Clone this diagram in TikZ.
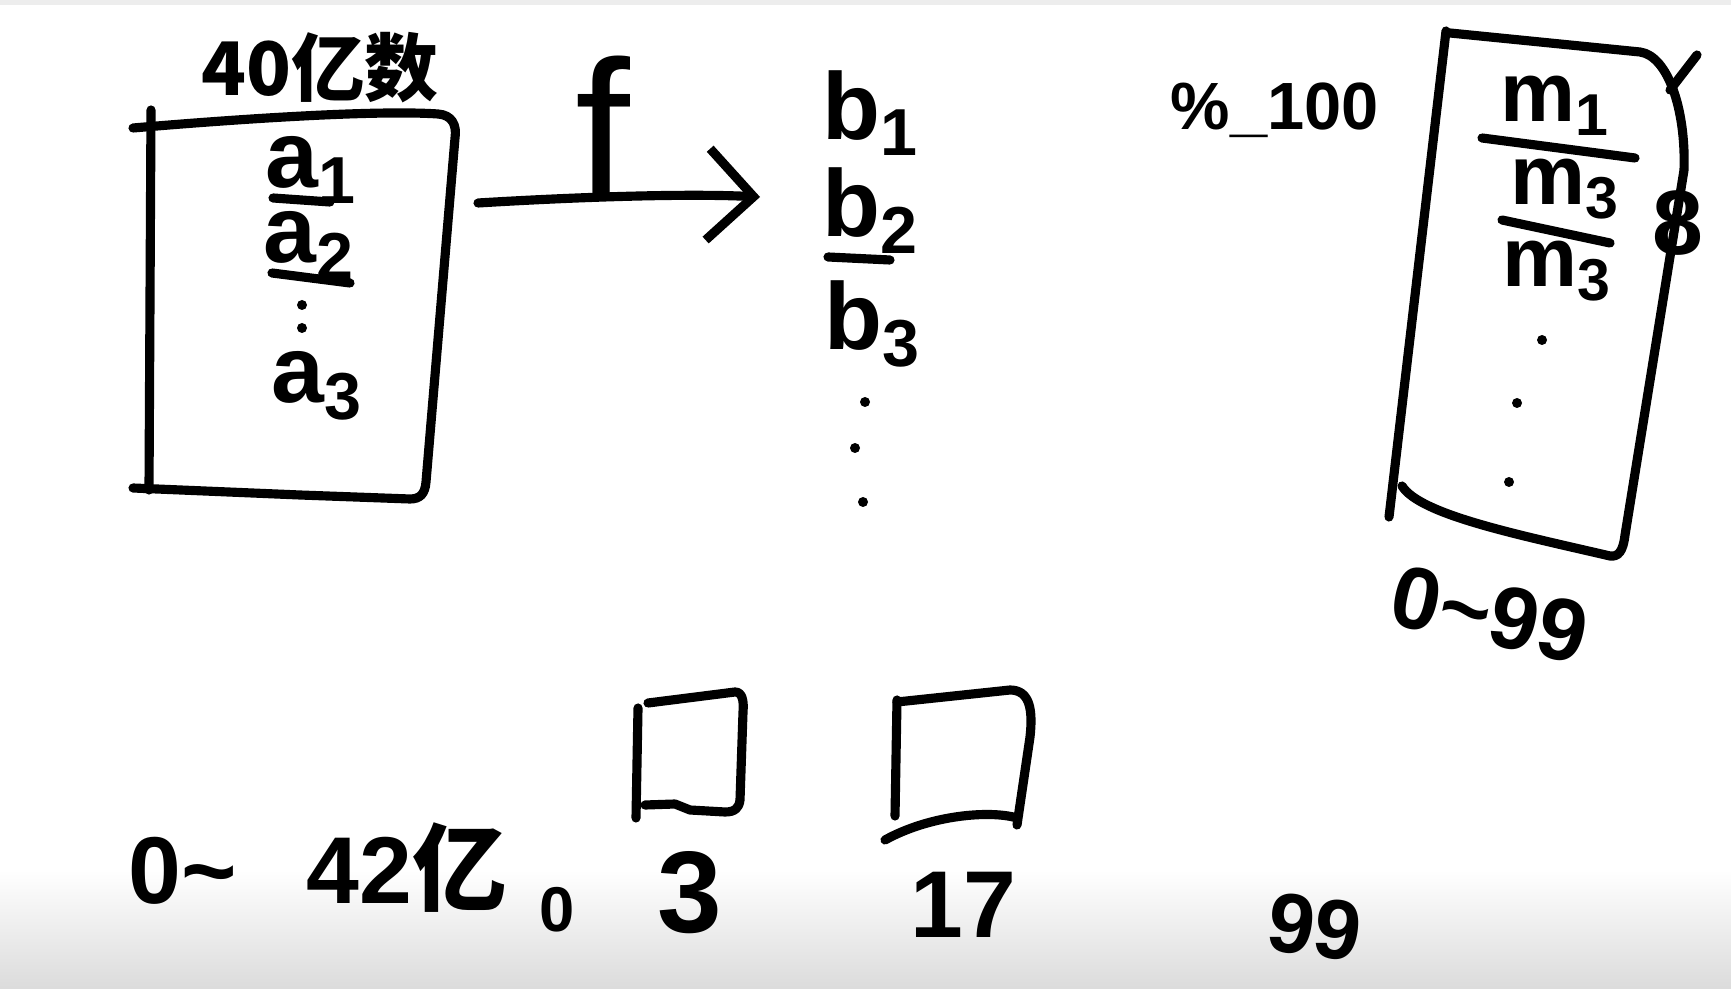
\documentclass[tikz,border=0pt]{standalone}
\usepackage{fontspec}
\setmainfont{Liberation Sans}
\newfontfamily\cjk{Noto Sans CJK SC}
\usetikzlibrary{arrows.meta}
\begin{document}
\begin{tikzpicture}[x=0.01cm, y=-0.01cm,
    trazo/.style={line width=2.6pt, line cap=round, line join=round},
    mano/.style={inner sep=0pt, font=\bfseries\fontsize{#1}{#1}\selectfont},
    mano/.default=26]
    \useasboundingbox (0,0) rectangle (1731,989);

    % Fondo
    \fill[black!7] (0,0) rectangle (1731,5);
    \shade[top color=white, bottom color=black!14] (0,870) rectangle (1731,989);

    % Caja de los datos
    \node[mano=21] (titulo) at (320,68) {\cjk 40亿数};
    \draw[trazo] (151,110) -- (149,490);
    \draw[trazo] (133,128) .. controls (250,118) and (380,110) .. (438,114)
        .. controls (452,115) and (457,125) .. (455,138) -- (426,482)
        .. controls (425,494) and (420,499) .. (410,499) -- (300,495) -- (133,488);
    \node[mano=27, anchor=base west] (a1) at (265,188) {a\textsubscript{1}};
    \node[mano=27, anchor=base west] (a2) at (263,263) {a\textsubscript{2}};
    \node[mano=27, anchor=base west] (a3) at (271,403) {a\textsubscript{3}};
    \draw[trazo] (273,198) -- (330,202);
    \draw[trazo] (272,273) -- (350,283);
    \foreach \p in {(302,305),(302,328)} \fill \p circle (5);

    % Funcion f
    \coordinate (f-ini) at (478,203);
    \coordinate (f-fin) at (760,197);
    \draw[trazo, -{Straight Barb[length=13pt, width=26pt]}] (f-ini) .. controls (560,198) and (680,193) .. (f-fin);
    \node[inner sep=0pt, font=\fontsize{56}{56}\selectfont, anchor=base] (f) at (603,199) {f};

    % Resultados b
    \node[mano=27, anchor=base west] (b1) at (822,140) {b\textsubscript{1}};
    \node[mano=27, anchor=base west] (b2) at (822,237) {b\textsubscript{2}};
    \node[mano=27, anchor=base west] (b3) at (824,350) {b\textsubscript{3}};
    \draw[trazo] (828,257) -- (890,260);
    \foreach \p in {(865,402),(855,448),(863,502)} \fill \p circle (5);

    % Modulo
    \node[mano=19, anchor=base west] (modulo) at (1170,130) {\%\_100};

    % Caja de los restos
    \draw[trazo] (1446,31) -- (1389,517);
    \draw[trazo] (1450,33) -- (1640,52)
        .. controls (1668,56) and (1686,110) .. (1684,170) -- (1625,535)
        .. controls (1623,552) and (1618,557) .. (1610,556)
        .. controls (1520,535) and (1420,515) .. (1402,486);
    \draw[trazo] (1670,90) -- (1697,55);
    \node[mano=24, anchor=base west] (m1) at (1500,122) {m\textsubscript{1}};
    \node[mano=24, anchor=base west] (m2) at (1510,205) {m\textsubscript{3}};
    \node[mano=24, anchor=base west] (m3) at (1502,287) {m\textsubscript{3}};
    \draw[trazo] (1482,138) -- (1635,158);
    \draw[trazo] (1502,220) -- (1610,243);
    \node[mano=26] (ocho) at (1678,223) {8};
    \foreach \p in {(1542,340),(1517,403),(1509,482)} \fill \p circle (5);
    \node[mano=25, rotate=-12] (rango) at (1490,614) {0\textasciitilde99};

    % Fila de abajo
    \node[mano=27, anchor=base west] (total) at (128,903) {0\textasciitilde\hspace{0.7cm}42{\cjk 亿}};
    \node[mano=18] (cero) at (557,910) {0};
    \node[mano=33] (tres) at (690,893) {3};
    \node[mano=27] (diecisiete) at (963,905) {17};
    \node[mano=24, rotate=-8] (noventa) at (1315,927) {99};

    % Cubos
    \draw[trazo] (638,708) -- (636,818);
    \draw[trazo] (648,703) -- (735,692) .. controls (742,692) and (744,700) .. (743,712)
        -- (740,800) .. controls (739,808) and (735,812) .. (725,812)
        -- (690,810) -- (675,804) -- (645,805);
    \draw[trazo] (897,700) -- (895,816);
    \draw[trazo] (897,702) -- (1010,690) .. controls (1030,690) and (1033,710) .. (1030,737)
        -- (1017,825);
    \draw[trazo] (885,840) .. controls (930,815) and (990,810) .. (1017,818);
\end{tikzpicture}
\end{document}
